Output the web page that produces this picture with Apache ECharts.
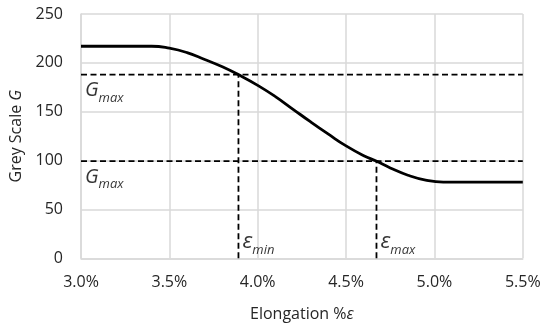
<!DOCTYPE html>
<html><head><meta charset="utf-8">
<script src="https://cdn.jsdelivr.net/npm/echarts@6/dist/echarts.min.js"></script>
<style>html,body{margin:0;padding:0;background:#fff}#c{width:550px;height:330px}</style>
</head><body><div id="c"></div>
<script>
// Curve: elongation (%) vs grey scale
const elongation = [3.0, 3.4, 3.5, 3.6, 3.7, 3.8, 3.89, 4.0, 4.1, 4.2, 4.3, 4.4, 4.5, 4.6, 4.67, 4.75, 4.85, 4.95, 5.05, 5.1, 5.5];
const greyScale  = [217, 217, 215, 210.5, 203.5, 196, 188, 177, 165.5, 152.5, 139.5, 127, 115, 105, 99.5, 92.5, 85, 80, 78, 78, 78];
// Thresholds
const gUpper = 188, gLower = 99.5;
const epsMin = 3.891, epsMax = 4.672;
const xTicks = [3.0, 3.5, 4.0, 4.5, 5.0, 5.5];
const yTicks = [0, 50, 100, 150, 200, 250];

const font = 'Open Sans';
const curve = elongation.map((x, i) => [x, greyScale[i]]);
const dash = {color:'#000', width:1.8, type:[6,3.5]};
function seg(d){ return {type:'line', data:d, symbol:'none', lineStyle:dash, silent:true, z:3}; }

const richG = {
  g:{fontFamily:font, fontSize:20, fontStyle:'italic', color:'#000', lineHeight:22, verticalAlign:'bottom'},
  s:{fontFamily:font, fontSize:13, fontStyle:'italic', color:'#000', lineHeight:16, verticalAlign:'bottom', padding:[0,0,-4,0]},
  e:{fontFamily:font, fontSize:22, fontStyle:'italic', color:'#000', lineHeight:22, verticalAlign:'bottom'}
};

const chart = echarts.init(document.getElementById('c'));
chart.setOption({
  animation:false,
  backgroundColor:'#fff',
  grid:{left:80.7, right:27.2, top:14, bottom:71.7},
  xAxis:{type:'value', min:xTicks[0], max:xTicks[xTicks.length-1], interval:0.5,
    axisLine:{lineStyle:{color:'#d9d9d9', width:1.5}}, axisTick:{show:false},
    splitLine:{lineStyle:{color:'#d9d9d9', width:1.5}},
    axisLabel:{fontFamily:font, fontSize:16, color:'#262626', margin:16, formatter:v=>v.toFixed(1)+'%'},
    name:'Elongation %{i|ε}', nameLocation:'middle', nameGap:48,
    nameTextStyle:{fontFamily:font, fontSize:16, color:'#262626', rich:{i:{fontFamily:font, fontSize:16, fontStyle:'italic', color:'#262626'}}}
  },
  yAxis:{type:'value', min:yTicks[0], max:yTicks[yTicks.length-1], interval:50,
    axisLine:{show:true, lineStyle:{color:'#d9d9d9', width:1.5}}, axisTick:{show:false},
    splitLine:{lineStyle:{color:'#d9d9d9', width:1.5}},
    axisLabel:{fontFamily:font, fontSize:16, color:'#262626', margin:18},
    name:'Grey Scale {i|G}', nameLocation:'middle', nameGap:57,
    nameTextStyle:{fontFamily:font, fontSize:16, color:'#262626', rich:{i:{fontFamily:font, fontSize:16, fontStyle:'italic', color:'#262626'}}}
  },
  series:[
    seg([[xTicks[0], gUpper],[xTicks[xTicks.length-1], gUpper]]),
    seg([[xTicks[0], gLower],[xTicks[xTicks.length-1], gLower]]),
    seg([[epsMin, 0],[epsMin, gUpper]]),
    seg([[epsMax, 0],[epsMax, gLower]]),
    {type:'line', data:curve, smooth:0.5, symbol:'none', lineStyle:{color:'#000', width:2.8}, z:5},
    {type:'scatter', symbolSize:0, silent:true, z:6,
      data:[
        {value:[xTicks[0], gUpper], label:{formatter:'{g|G}{s|max}', position:[4,4]}},
        {value:[xTicks[0], gLower], label:{formatter:'{g|G}{s|max}', position:[4,4]}},
        {value:[epsMin, 0], label:{formatter:'{e|ε}{s|min}', position:[4,-28]}},
        {value:[epsMax, 0], label:{formatter:'{e|ε}{s|max}', position:[4,-28]}}
      ],
      label:{show:true, align:'left', verticalAlign:'top', rich:richG}
    }
  ]
});
</script></body></html>
